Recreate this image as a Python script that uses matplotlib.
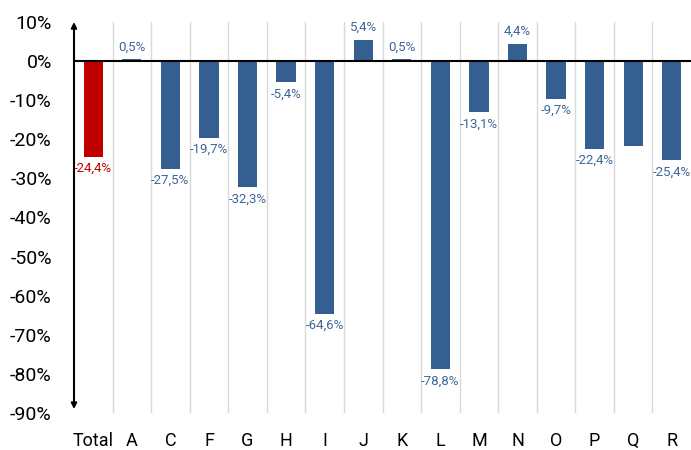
import numpy as np
import matplotlib.pyplot as plt

plt.rcParams['font.family'] = ['Roboto', 'DejaVu Sans']

# sector changes, in percent
categories = ["Total", "A", "C", "F", "G", "H", "I", "J", "K", "L", "M", "N", "O", "P", "Q", "R"]
values = [-24.4, 0.5, -27.5, -19.7, -32.3, -5.4, -64.6, 5.4, 0.5, -78.8, -13.1, 4.4, -9.7, -22.4, -21.7, -25.4]
# Q has no value printed on it
show_label = [True] * 16
show_label[14] = False

blue = "#355f91"
red = "#c00000"

fig = plt.figure(figsize=(6.91, 4.5), dpi=100)
ax = fig.add_axes([74 / 691, 37 / 450, 1 - 74 / 691, 391 / 450])

x = np.arange(len(categories))
colors = [red] + [blue] * (len(categories) - 1)
ax.bar(x, values, width=0.5, color=colors, zorder=3)

for i, v in enumerate(values):
    if not show_label[i]:
        continue
    txt = f"{v:.1f}%".replace(".", ",")
    if v < 0:
        ax.text(i, v - 1.3, txt, ha="center", va="top", fontsize=9.5, color=colors[i] if i == 0 else "#3d6699")
    else:
        ax.text(i, v + 1.5, txt, ha="center", va="bottom", fontsize=9.5, color="#3d6699")

# light separators between categories
for b in np.arange(0.5, len(categories) - 0.5, 1):
    ax.axvline(b, color="#d9d9d9", lw=1, zorder=1)

ax.axhline(0, color="black", lw=1.5, zorder=4)

ax.set_xlim(-0.5, len(categories) - 0.5)
ax.set_ylim(-90, 10)
ax.set_yticks(np.arange(-90, 11, 10))
ax.set_yticklabels([f"{t}%" for t in range(-90, 11, 10)], fontsize=14)
ax.set_xticks(x)
ax.set_xticklabels(categories, fontsize=13)
ax.tick_params(axis="both", length=0)
ax.tick_params(axis="y", pad=16)
ax.tick_params(axis="x", pad=14)

for s in ax.spines.values():
    s.set_visible(False)

# y axis drawn as a double arrow
ax.annotate("", xy=(-0.5, 10), xytext=(-0.5, -89), xycoords="data",
            arrowprops=dict(arrowstyle="<|-|>", color="black", lw=1.5,
                            mutation_scale=8, shrinkA=0, shrinkB=0),
            annotation_clip=False, zorder=5)

fig.savefig("out.png", dpi=100)
